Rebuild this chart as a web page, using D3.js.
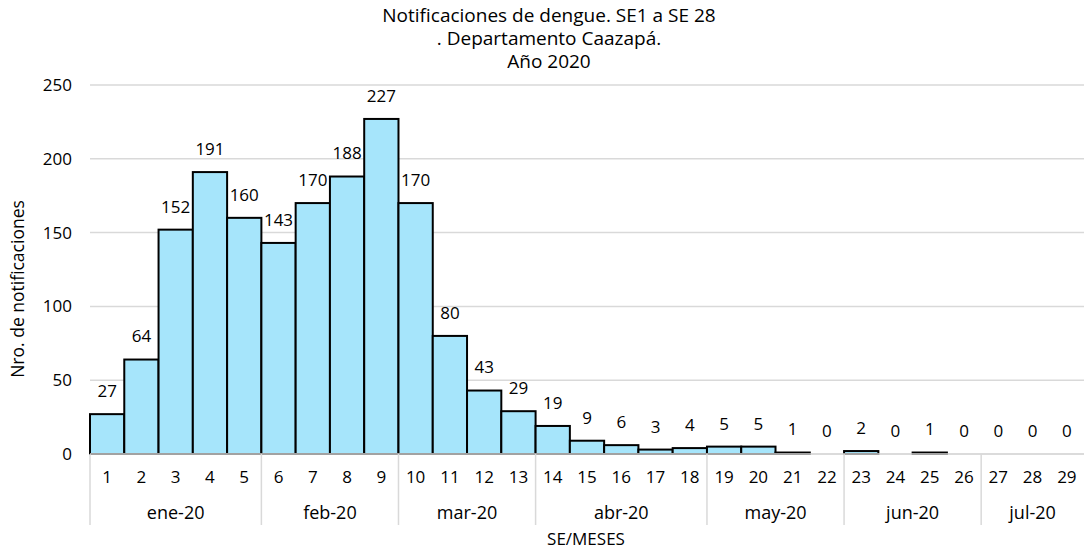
<!DOCTYPE html>
<html>
<head>
<meta charset="utf-8">
<script src="https://cdn.jsdelivr.net/npm/d3@7"></script>
<style>
  body { margin: 0; background: #fff; }
  text { font-family: "Open Sans", "Noto Sans", sans-serif; fill: #000; }
</style>
</head>
<body>
<svg id="chart" width="1084" height="550"></svg>
<script>
// semanas epidemiologicas
var weeks = ["1","2","3","4","5","6","7","8","9","10","11","12","13","14","15",
  "16","17","18","19","20","21","22","23","24","25","26","27","28","29"];
var values = [27,64,152,191,160,143,170,188,227,170,80,43,29,19,9,6,3,4,5,5,1,0,2,0,1,0,0,0,0];
var months = ["ene-20","feb-20","mar-20","abr-20","may-20","jun-20","jul-20"];
var weeksPerMonth = [5,4,4,5,4,4,3];
var yTicks = [0,50,100,150,200,250];
var titleLines = ["Notificaciones de dengue. SE1 a SE 28", ". Departamento Caazapá.", "Año 2020"];

var svg = d3.select("#chart");
var plotL = 90, plotR = 1084, plotT = 85, plotB = 454;

var x = d3.scaleBand().domain(weeks).range([plotL, plotR]).padding(0);
var y = d3.scaleLinear().domain([0, 250]).range([plotB, plotT]);

// lineas de grilla
svg.append("g").selectAll("line")
  .data(yTicks)
  .enter().append("line")
  .attr("x1", plotL).attr("x2", plotR)
  .attr("y1", d => y(d)).attr("y2", d => y(d))
  .attr("stroke", "#d9d9d9").attr("stroke-width", 1.5);

// etiquetas del eje y
svg.append("g").selectAll("text")
  .data(yTicks)
  .enter().append("text")
  .attr("x", 72).attr("y", d => y(d))
  .attr("dy", "0.35em")
  .attr("text-anchor", "end")
  .style("font-size", "17px")
  .text(d => d);

// barras
var bars = svg.append("g");
values.forEach(function (v, i) {
  if (v <= 0) return;
  bars.append("rect")
    .attr("x", x(weeks[i]))
    .attr("y", y(v))
    .attr("width", x.bandwidth())
    .attr("height", plotB - y(v))
    .attr("fill", "#a6e5fb")
    .attr("stroke", "#000")
    .attr("stroke-width", 2);
});

// etiquetas de datos
svg.append("g").selectAll("text")
  .data(values)
  .enter().append("text")
  .attr("x", (d, i) => x(weeks[i]) + x.bandwidth() / 2)
  .attr("y", d => y(d) - 23)
  .attr("dy", "0.35em")
  .attr("text-anchor", "middle")
  .style("font-size", "17px")
  .text(d => d);

// eje x: semanas
svg.append("g").selectAll("text")
  .data(weeks)
  .enter().append("text")
  .attr("x", d => x(d) + x.bandwidth() / 2)
  .attr("y", 477)
  .attr("dy", "0.35em")
  .attr("text-anchor", "middle")
  .style("font-size", "17px")
  .text(d => d);

// eje x: meses
var monthStart = [];
var acc = 0;
weeksPerMonth.forEach(function (n) { monthStart.push(acc); acc += n; });

var mg = svg.append("g");
months.forEach(function (m, i) {
  var x0 = x(weeks[monthStart[i]]);
  var x1 = x0 + weeksPerMonth[i] * x.bandwidth();
  mg.append("line")
    .attr("x1", x0).attr("x2", x0)
    .attr("y1", plotB).attr("y2", 525)
    .attr("stroke", "#d9d9d9").attr("stroke-width", 1.5);
  mg.append("text")
    .attr("x", (x0 + x1) / 2)
    .attr("y", 513)
    .attr("dy", "0.35em")
    .attr("text-anchor", "middle")
    .style("font-size", "18px")
    .text(m);
});

// linea base
svg.append("line")
  .attr("x1", plotL).attr("x2", plotR)
  .attr("y1", plotB).attr("y2", plotB)
  .attr("stroke", "#d9d9d9").attr("stroke-width", 1.5);

// titulos
svg.append("g").selectAll("text")
  .data(titleLines)
  .enter().append("text")
  .attr("x", 549)
  .attr("y", (d, i) => 15 + i * 23)
  .attr("dy", "0.35em")
  .attr("text-anchor", "middle")
  .style("font-size", "19px")
  .text(d => d);

svg.append("text")
  .attr("x", 586).attr("y", 539)
  .attr("dy", "0.35em")
  .attr("text-anchor", "middle")
  .style("font-size", "17px")
  .text("SE/MESES");

svg.append("text")
  .attr("transform", "translate(18,289) rotate(-90)")
  .attr("dy", "0.35em")
  .attr("text-anchor", "middle")
  .style("font-size", "17.5px")
  .text("Nro. de notificaciones");
</script>
</body>
</html>
